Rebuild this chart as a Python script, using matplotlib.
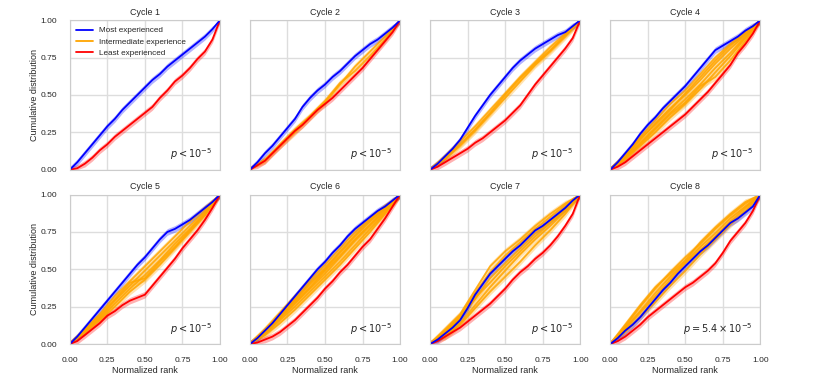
import numpy as np
import matplotlib
matplotlib.use("Agg")
import matplotlib.pyplot as plt
import seaborn as sns

# Normalized rank grids the curves were read at
rank_fine = [0.0, 0.05, 0.1, 0.15, 0.2, 0.25, 0.3, 0.35, 0.4, 0.45, 0.5,
             0.55, 0.6, 0.65, 0.7, 0.75, 0.8, 0.85, 0.9, 0.95, 1.0]
rank = [0.0, 0.1, 0.2, 0.3, 0.4, 0.5, 0.6, 0.7, 0.8, 0.9, 1.0]

cycles = ["Cycle 1", "Cycle 2", "Cycle 3", "Cycle 4",
          "Cycle 5", "Cycle 6", "Cycle 7", "Cycle 8"]

p_labels = [r"$p < 10^{-5}$"] * 7 + [r"$p = 5.4 \times 10^{-5}$"]

most_exp = [
    [0, 0.05, 0.11, 0.17, 0.23, 0.29, 0.34, 0.40, 0.45, 0.50, 0.55, 0.60, 0.64, 0.69, 0.73, 0.77, 0.81, 0.85, 0.89, 0.94, 1.0],
    [0, 0.05, 0.11, 0.16, 0.22, 0.28, 0.34, 0.42, 0.48, 0.53, 0.57, 0.62, 0.66, 0.71, 0.76, 0.80, 0.84, 0.87, 0.91, 0.95, 1.0],
    [0, 0.04, 0.09, 0.14, 0.20, 0.28, 0.36, 0.43, 0.50, 0.56, 0.62, 0.68, 0.73, 0.77, 0.81, 0.84, 0.87, 0.90, 0.92, 0.96, 1.0],
    [0, 0.05, 0.11, 0.17, 0.24, 0.30, 0.35, 0.41, 0.46, 0.51, 0.56, 0.62, 0.68, 0.74, 0.80, 0.83, 0.86, 0.89, 0.93, 0.96, 1.0],
    [0, 0.05, 0.11, 0.17, 0.23, 0.29, 0.35, 0.41, 0.47, 0.53, 0.58, 0.64, 0.70, 0.75, 0.77, 0.80, 0.83, 0.87, 0.91, 0.95, 1.0],
    [0, 0.04, 0.09, 0.14, 0.20, 0.26, 0.32, 0.38, 0.44, 0.50, 0.55, 0.61, 0.66, 0.72, 0.77, 0.81, 0.85, 0.89, 0.92, 0.96, 1.0],
    [0, 0.03, 0.07, 0.11, 0.16, 0.24, 0.33, 0.40, 0.47, 0.52, 0.57, 0.62, 0.66, 0.71, 0.76, 0.79, 0.83, 0.87, 0.91, 0.96, 1.0],
    [0, 0.04, 0.09, 0.13, 0.18, 0.24, 0.30, 0.36, 0.41, 0.47, 0.52, 0.57, 0.62, 0.66, 0.71, 0.76, 0.81, 0.84, 0.88, 0.92, 1.0],
]

least_exp = [
    [0, 0.01, 0.04, 0.08, 0.13, 0.17, 0.22, 0.26, 0.30, 0.34, 0.38, 0.42, 0.48, 0.53, 0.59, 0.63, 0.68, 0.74, 0.79, 0.87, 1.0],
    [0, 0.03, 0.06, 0.11, 0.16, 0.21, 0.26, 0.30, 0.35, 0.40, 0.44, 0.48, 0.53, 0.58, 0.63, 0.68, 0.74, 0.80, 0.86, 0.92, 1.0],
    [0, 0.02, 0.05, 0.08, 0.11, 0.14, 0.18, 0.21, 0.25, 0.29, 0.33, 0.38, 0.43, 0.50, 0.57, 0.63, 0.69, 0.75, 0.81, 0.88, 1.0],
    [0, 0.02, 0.05, 0.09, 0.13, 0.17, 0.21, 0.25, 0.29, 0.33, 0.37, 0.42, 0.47, 0.52, 0.58, 0.64, 0.70, 0.78, 0.84, 0.91, 1.0],
    [0, 0.02, 0.06, 0.10, 0.14, 0.19, 0.22, 0.26, 0.29, 0.31, 0.33, 0.39, 0.45, 0.51, 0.57, 0.64, 0.70, 0.76, 0.83, 0.91, 1.0],
    [0, 0.01, 0.03, 0.05, 0.08, 0.12, 0.16, 0.21, 0.26, 0.31, 0.37, 0.42, 0.48, 0.53, 0.59, 0.65, 0.70, 0.77, 0.84, 0.92, 1.0],
    [0, 0.02, 0.05, 0.08, 0.11, 0.15, 0.19, 0.23, 0.27, 0.32, 0.37, 0.43, 0.48, 0.52, 0.57, 0.61, 0.66, 0.72, 0.79, 0.87, 1.0],
    [0, 0.02, 0.05, 0.09, 0.13, 0.18, 0.22, 0.26, 0.30, 0.34, 0.38, 0.41, 0.45, 0.49, 0.54, 0.61, 0.69, 0.75, 0.81, 0.89, 1.0],
]

# intermediate experience groups, several per cycle (coarser grid)
intermediate = [
    [],
    [[0, 0.07, 0.16, 0.25, 0.35, 0.45, 0.57, 0.69, 0.79, 0.89, 1.0],
     [0, 0.06, 0.17, 0.27, 0.36, 0.46, 0.58, 0.66, 0.76, 0.87, 1.0]],
    [[0, 0.08, 0.17, 0.27, 0.38, 0.50, 0.61, 0.71, 0.80, 0.90, 1.0],
     [0, 0.09, 0.19, 0.29, 0.40, 0.51, 0.62, 0.72, 0.82, 0.91, 1.0],
     [0, 0.07, 0.16, 0.26, 0.37, 0.48, 0.59, 0.70, 0.79, 0.89, 1.0]],
    [[0, 0.10, 0.22, 0.33, 0.44, 0.53, 0.64, 0.75, 0.84, 0.92, 1.0],
     [0, 0.09, 0.20, 0.31, 0.41, 0.50, 0.60, 0.71, 0.81, 0.90, 1.0],
     [0, 0.08, 0.18, 0.28, 0.38, 0.47, 0.57, 0.68, 0.78, 0.89, 1.0],
     [0, 0.07, 0.16, 0.25, 0.35, 0.44, 0.54, 0.65, 0.76, 0.88, 1.0],
     [0, 0.08, 0.17, 0.27, 0.37, 0.45, 0.56, 0.62, 0.73, 0.86, 1.0],
     [0, 0.10, 0.21, 0.30, 0.40, 0.51, 0.62, 0.73, 0.83, 0.91, 1.0]],
    [[0, 0.10, 0.20, 0.32, 0.42, 0.52, 0.62, 0.72, 0.82, 0.91, 1.0],
     [0, 0.09, 0.18, 0.29, 0.39, 0.49, 0.59, 0.69, 0.79, 0.89, 1.0],
     [0, 0.08, 0.17, 0.27, 0.37, 0.46, 0.56, 0.67, 0.77, 0.88, 1.0],
     [0, 0.09, 0.19, 0.30, 0.41, 0.44, 0.55, 0.65, 0.76, 0.87, 1.0],
     [0, 0.08, 0.16, 0.25, 0.35, 0.43, 0.53, 0.64, 0.75, 0.86, 1.0]],
    [[0, 0.10, 0.21, 0.32, 0.43, 0.53, 0.64, 0.75, 0.84, 0.92, 1.0],
     [0, 0.09, 0.19, 0.29, 0.40, 0.50, 0.61, 0.72, 0.82, 0.91, 1.0],
     [0, 0.08, 0.17, 0.27, 0.37, 0.47, 0.58, 0.69, 0.79, 0.89, 1.0],
     [0, 0.07, 0.16, 0.25, 0.35, 0.45, 0.55, 0.66, 0.77, 0.88, 1.0],
     [0, 0.08, 0.18, 0.28, 0.38, 0.49, 0.59, 0.70, 0.80, 0.90, 1.0],
     [0, 0.06, 0.14, 0.23, 0.33, 0.43, 0.53, 0.64, 0.75, 0.87, 1.0],
     [0, 0.09, 0.20, 0.30, 0.41, 0.51, 0.62, 0.73, 0.83, 0.92, 1.0]],
    [[0, 0.10, 0.20, 0.36, 0.52, 0.62, 0.70, 0.79, 0.87, 0.94, 1.0],
     [0, 0.08, 0.18, 0.30, 0.44, 0.54, 0.64, 0.74, 0.82, 0.91, 1.0],
     [0, 0.06, 0.14, 0.26, 0.38, 0.49, 0.60, 0.70, 0.79, 0.89, 1.0],
     [0, 0.09, 0.19, 0.34, 0.48, 0.59, 0.68, 0.77, 0.85, 0.93, 1.0],
     [0, 0.05, 0.13, 0.24, 0.35, 0.45, 0.55, 0.66, 0.76, 0.87, 1.0],
     [0, 0.07, 0.17, 0.31, 0.41, 0.52, 0.62, 0.72, 0.81, 0.90, 1.0]],
    [[0, 0.12, 0.25, 0.37, 0.48, 0.58, 0.67, 0.77, 0.86, 0.94, 1.0],
     [0, 0.11, 0.22, 0.34, 0.45, 0.55, 0.65, 0.74, 0.84, 0.92, 1.0],
     [0, 0.10, 0.21, 0.32, 0.43, 0.54, 0.63, 0.72, 0.82, 0.91, 1.0],
     [0, 0.13, 0.26, 0.38, 0.47, 0.56, 0.68, 0.78, 0.87, 0.95, 1.0],
     [0, 0.08, 0.18, 0.28, 0.39, 0.49, 0.60, 0.70, 0.80, 0.89, 1.0]],
]

BLUE = "#0000ff"
ORANGE = "#ffa500"
RED = "#ff0000"
band = 0.022


def draw_curve(ax, x, y, color, alpha_line=1.0, alpha_band=0.3):
    y = np.array(y)
    ax.fill_between(x, np.clip(y - band, 0, 1), np.clip(y + band, 0, 1),
                    color=color, alpha=alpha_band, linewidth=0)
    ax.plot(x, y, color=color, lw=1.3, alpha=alpha_line)


sns.set_theme(style="whitegrid")
plt.rcParams["font.family"] = ["Liberation Sans", "DejaVu Sans"]
plt.rcParams["axes.edgecolor"] = "#cccccc"
plt.rcParams["grid.color"] = "#dddddd"

fig, axes = plt.subplots(2, 4, figsize=(8.31, 3.81), dpi=100, sharex=True, sharey=True)
fig.subplots_adjust(left=0.084, right=0.915, top=0.947, bottom=0.097,
                    wspace=0.2, hspace=0.166)

for i, ax in enumerate(axes.flat):
    for curve in intermediate[i]:
        draw_curve(ax, rank, curve, ORANGE, alpha_line=0.85, alpha_band=0.3)
    draw_curve(ax, rank_fine, least_exp[i], RED)
    draw_curve(ax, rank_fine, most_exp[i], BLUE)
    ax.set_xlim(0, 1)
    ax.set_ylim(0, 1)
    ax.set_xticks([0, 0.25, 0.5, 0.75, 1.0])
    ax.set_yticks([0, 0.25, 0.5, 0.75, 1.0])
    ax.set_xticklabels(["0.00", "0.25", "0.50", "0.75", "1.00"])
    ax.set_yticklabels(["0.00", "0.25", "0.50", "0.75", "1.00"])
    ax.tick_params(labelsize=6, pad=3)
    ax.set_title(cycles[i], fontsize=6.4, pad=4)
    ax.text(0.95, 0.05, p_labels[i], transform=ax.transAxes,
            ha="right", va="bottom", fontsize=7)
    for sp in ax.spines.values():
        sp.set_linewidth(0.8)
    if i % 4 == 0:
        ax.set_ylabel("Cumulative distribution", fontsize=6.5, labelpad=1.5)
    if i >= 4:
        ax.set_xlabel("Normalized rank", fontsize=6.5, labelpad=2)

# legend only in first panel
ax0 = axes[0, 0]
h = [plt.Line2D([], [], color=BLUE, lw=1.3),
     plt.Line2D([], [], color=ORANGE, lw=1.3),
     plt.Line2D([], [], color=RED, lw=1.3)]
ax0.legend(h, ["Most experienced", "Intermediate experience", "Least experienced"],
           loc="upper left", fontsize=5.9, frameon=False, handlelength=2.0,
           borderaxespad=0.4, labelspacing=0.45)

fig.savefig("out.png", dpi=100)
